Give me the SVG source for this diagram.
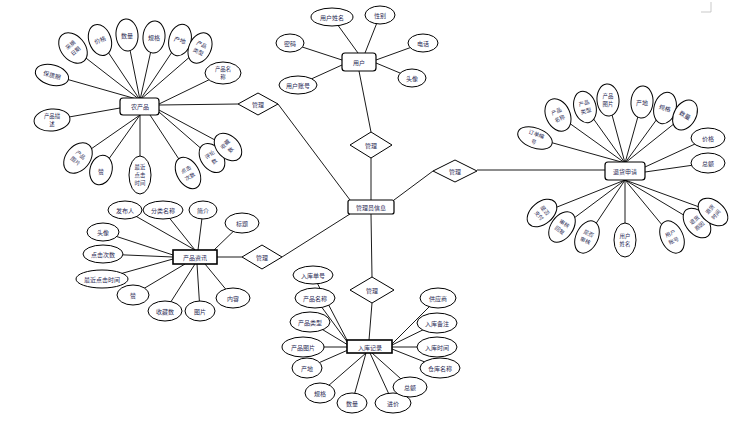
<svg xmlns="http://www.w3.org/2000/svg" width="736" height="434" viewBox="0 0 736 434">
<style>
.c line{stroke:#000;stroke-width:0.9}
ellipse{fill:#fff;stroke:#000;stroke-width:1}
.d{fill:#fff;stroke:#000;stroke-width:1}
.r{fill:#fff;stroke:#000;stroke-width:1.2}
.rs{fill:#fff;stroke:#000;stroke-width:1.6}
text{font-family:"Noto Sans CJK SC","Noto Sans",sans-serif;font-size:6px;fill:#2b2b55;text-anchor:middle;dominant-baseline:central}
text.m{font-size:5.4px}
</style>
<rect width="736" height="434" fill="#fff"/>
<path d="M701,12 H711 V2" fill="none" stroke="#bbb" stroke-width="0.8"/>
<g id="connectors" class="c">
<line x1="52" y1="75" x2="140" y2="100"/>
<line x1="73" y1="48" x2="140" y2="100"/>
<line x1="100" y1="40" x2="140" y2="100"/>
<line x1="127" y1="35" x2="140" y2="100"/>
<line x1="154" y1="37" x2="140" y2="100"/>
<line x1="180" y1="40" x2="140" y2="100"/>
<line x1="200" y1="48" x2="140" y2="100"/>
<line x1="223" y1="73" x2="159" y2="104"/>
<line x1="52" y1="120" x2="120" y2="108"/>
<line x1="78" y1="158" x2="140" y2="115"/>
<line x1="101" y1="170" x2="140" y2="115"/>
<line x1="140" y1="175" x2="140" y2="115"/>
<line x1="188" y1="173" x2="150" y2="115"/>
<line x1="212" y1="158" x2="159" y2="112"/>
<line x1="228" y1="147" x2="159" y2="110"/>
<line x1="159" y1="105" x2="238" y2="104"/>
<line x1="278" y1="104" x2="350" y2="200"/>
<line x1="332" y1="17" x2="358" y2="53"/>
<line x1="380" y1="15" x2="365" y2="53"/>
<line x1="290" y1="43" x2="342" y2="60"/>
<line x1="423" y1="43" x2="376" y2="60"/>
<line x1="412" y1="78" x2="376" y2="63"/>
<line x1="298" y1="85" x2="342" y2="65"/>
<line x1="359" y1="71" x2="371" y2="132"/>
<line x1="371" y1="158" x2="371" y2="200"/>
<line x1="394" y1="200" x2="433" y2="171"/>
<line x1="477" y1="170" x2="605" y2="170"/>
<line x1="535" y1="138" x2="625" y2="163"/>
<line x1="558" y1="115" x2="625" y2="163"/>
<line x1="585" y1="107" x2="625" y2="163"/>
<line x1="608" y1="100" x2="625" y2="163"/>
<line x1="642" y1="102" x2="625" y2="163"/>
<line x1="665" y1="108" x2="625" y2="163"/>
<line x1="685" y1="115" x2="625" y2="163"/>
<line x1="708" y1="138" x2="645" y2="167"/>
<line x1="708" y1="163" x2="645" y2="172"/>
<line x1="542" y1="213" x2="625" y2="180"/>
<line x1="562" y1="227" x2="625" y2="180"/>
<line x1="587" y1="237" x2="625" y2="180"/>
<line x1="625" y1="240" x2="625" y2="180"/>
<line x1="672" y1="237" x2="625" y2="180"/>
<line x1="697" y1="223" x2="625" y2="180"/>
<line x1="713" y1="212" x2="625" y2="180"/>
<line x1="125" y1="210" x2="195" y2="250"/>
<line x1="163" y1="210" x2="195" y2="250"/>
<line x1="203" y1="210" x2="198" y2="250"/>
<line x1="242" y1="223" x2="214" y2="250"/>
<line x1="103" y1="232" x2="173" y2="255"/>
<line x1="103" y1="254" x2="173" y2="257"/>
<line x1="102" y1="279" x2="173" y2="259"/>
<line x1="133" y1="295" x2="185" y2="264"/>
<line x1="165" y1="311" x2="195" y2="264"/>
<line x1="200" y1="311" x2="197" y2="264"/>
<line x1="233" y1="298" x2="205" y2="264"/>
<line x1="217" y1="257" x2="242" y2="257"/>
<line x1="282" y1="257" x2="350" y2="214"/>
<line x1="371" y1="214" x2="372" y2="277"/>
<line x1="372" y1="303" x2="369" y2="340"/>
<line x1="313" y1="275" x2="348" y2="342"/>
<line x1="315" y1="298" x2="348" y2="343"/>
<line x1="310" y1="322" x2="348" y2="345"/>
<line x1="303" y1="347" x2="347" y2="347"/>
<line x1="307" y1="368" x2="348" y2="350"/>
<line x1="320" y1="393" x2="366" y2="353"/>
<line x1="352" y1="403" x2="366" y2="353"/>
<line x1="393" y1="403" x2="370" y2="353"/>
<line x1="410" y1="387" x2="372" y2="353"/>
<line x1="438" y1="298" x2="392" y2="344"/>
<line x1="437" y1="323" x2="392" y2="345"/>
<line x1="437" y1="347" x2="392" y2="347"/>
<line x1="440" y1="368" x2="392" y2="349"/>
</g>

<g id="admin"><rect class="r" x="348" y="200" width="46" height="14" rx="2"/><text x="371" y="207">管理员信息</text></g>
<g id="rel-product"><polygon class="d" points="238,104 258,93 278,104 258,115"/><text x="258" y="104">管理</text></g>
<g id="rel-user"><polygon class="d" points="350,145 371,132 392,145 371,158"/><text x="371" y="145">管理</text></g>
<g id="rel-return"><polygon class="d" points="433,171 455,160 477,171 455,182"/><text x="455" y="171">管理</text></g>
<g id="rel-news"><polygon class="d" points="242,257 262,245 282,257 262,269"/><text x="262" y="257">管理</text></g>
<g id="rel-stock"><polygon class="d" points="350,290 372,277 394,290 372,303"/><text x="372" y="290">管理</text></g>

<g id="product"><rect class="r" x="120" y="98" width="39" height="17" rx="3"/><text x="140" y="106">农产品</text></g>
<g id="p-bzq"><ellipse cx="52" cy="75" rx="17" ry="10" transform="rotate(15 52 75)"/><text x="52" y="75" transform="rotate(15 52 75)">保质期</text></g>
<g id="p-czrq"><ellipse cx="73" cy="48" rx="12" ry="17" transform="rotate(-40 73 48)"/><text class="m" transform="rotate(-40 73 48)"><tspan x="73" y="44">采摘</tspan><tspan x="73" y="52">日期</tspan></text></g>
<g id="p-jg"><ellipse cx="100" cy="40" rx="11" ry="16" transform="rotate(-20 100 40)"/><text x="100" y="40" transform="rotate(-20 100 40)">价格</text></g>
<g id="p-sl"><ellipse cx="127" cy="35" rx="11" ry="16" transform="rotate(-5 127 35)"/><text x="127" y="35">数量</text></g>
<g id="p-gg"><ellipse cx="154" cy="37" rx="11" ry="16" transform="rotate(5 154 37)"/><text x="154" y="37">规格</text></g>
<g id="p-cd"><ellipse cx="180" cy="40" rx="11" ry="16" transform="rotate(15 180 40)"/><text x="180" y="40" transform="rotate(15 180 40)">产地</text></g>
<g id="p-cplx"><ellipse cx="200" cy="48" rx="11" ry="16" transform="rotate(25 200 48)"/><text class="m" transform="rotate(25 200 48)"><tspan x="200" y="44">产品</tspan><tspan x="200" y="52">类型</tspan></text></g>
<g id="p-cpmc"><ellipse cx="223" cy="73" rx="18" ry="11"/><text class="m"><tspan x="223" y="69">产品名</tspan><tspan x="223" y="77">称</tspan></text></g>
<g id="p-cpms"><ellipse cx="52" cy="120" rx="18" ry="11" transform="rotate(-5 52 120)"/><text class="m"><tspan x="52" y="116">产品描</tspan><tspan x="52" y="124">述</tspan></text></g>
<g id="p-cptp"><ellipse cx="78" cy="158" rx="12" ry="17" transform="rotate(40 78 158)"/><text class="m" transform="rotate(40 78 158)"><tspan x="78" y="154">产品</tspan><tspan x="78" y="162">图片</tspan></text></g>
<g id="p-zan"><ellipse cx="101" cy="170" rx="11" ry="15" transform="rotate(15 101 170)"/><text x="101" y="171">赞</text></g>
<g id="p-zjdj"><ellipse cx="140" cy="175" rx="11" ry="19"/><text class="m"><tspan x="140" y="167">最近</tspan><tspan x="140" y="175">点击</tspan><tspan x="140" y="183">时间</tspan></text></g>
<g id="p-djcs"><ellipse cx="188" cy="173" rx="11" ry="17" transform="rotate(-30 188 173)"/><text class="m" transform="rotate(-30 188 173)"><tspan x="188" y="169">点击</tspan><tspan x="188" y="177">次数</tspan></text></g>
<g id="p-pls"><ellipse cx="212" cy="158" rx="11" ry="16" transform="rotate(-35 212 158)"/><text class="m" transform="rotate(-35 212 158)"><tspan x="212" y="154">评论</tspan><tspan x="212" y="162">数</tspan></text></g>
<g id="p-scs"><ellipse cx="228" cy="147" rx="11" ry="16" transform="rotate(-45 228 147)"/><text class="m" transform="rotate(-45 228 147)"><tspan x="228" y="143">收藏</tspan><tspan x="228" y="151">数</tspan></text></g>

<g id="user"><rect class="r" x="342" y="53" width="34" height="18" rx="3"/><text x="359" y="62">用户</text></g>
<g id="u-xm"><ellipse cx="332" cy="17" rx="21" ry="9"/><text x="332" y="17">用户姓名</text></g>
<g id="u-xb"><ellipse cx="380" cy="15" rx="15" ry="9"/><text x="380" y="15">性别</text></g>
<g id="u-mm"><ellipse cx="290" cy="43" rx="14" ry="9"/><text x="290" y="43">密码</text></g>
<g id="u-dh"><ellipse cx="423" cy="43" rx="15" ry="9"/><text x="423" y="43">电话</text></g>
<g id="u-tx"><ellipse cx="412" cy="78" rx="14" ry="9"/><text x="412" y="78">头像</text></g>
<g id="u-zh"><ellipse cx="298" cy="85" rx="19" ry="9"/><text x="298" y="85">用户账号</text></g>

<g id="return"><rect class="r" x="605" y="162" width="40" height="18" rx="3"/><text x="625" y="171">退货申请</text></g>
<g id="t-ddbh"><ellipse cx="535" cy="138" rx="18" ry="10" transform="rotate(20 535 138)"/><text class="m" transform="rotate(20 535 138)"><tspan x="535" y="134">订单编</tspan><tspan x="535" y="142">号</tspan></text></g>
<g id="t-cpmc"><ellipse cx="558" cy="115" rx="12" ry="17" transform="rotate(-25 558 115)"/><text class="m" transform="rotate(-25 558 115)"><tspan x="558" y="111">产品</tspan><tspan x="558" y="119">名称</tspan></text></g>
<g id="t-cplx"><ellipse cx="585" cy="107" rx="11" ry="16" transform="rotate(-15 585 107)"/><text class="m" transform="rotate(-15 585 107)"><tspan x="585" y="103">产品</tspan><tspan x="585" y="111">类型</tspan></text></g>
<g id="t-cptp"><ellipse cx="608" cy="100" rx="11" ry="16" transform="rotate(-5 608 100)"/><text class="m"><tspan x="608" y="96">产品</tspan><tspan x="608" y="104">图片</tspan></text></g>
<g id="t-cd"><ellipse cx="642" cy="102" rx="11" ry="16" transform="rotate(5 642 102)"/><text x="642" y="102">产地</text></g>
<g id="t-gg"><ellipse cx="665" cy="108" rx="11" ry="16" transform="rotate(15 665 108)"/><text x="665" y="108" transform="rotate(15 665 108)">规格</text></g>
<g id="t-sl"><ellipse cx="685" cy="115" rx="11" ry="16" transform="rotate(30 685 115)"/><text x="685" y="115" transform="rotate(30 685 115)">数量</text></g>
<g id="t-jg"><ellipse cx="708" cy="138" rx="17" ry="10"/><text x="708" y="138">价格</text></g>
<g id="t-ze"><ellipse cx="708" cy="163" rx="17" ry="10"/><text x="708" y="163">总额</text></g>
<g id="t-sfzf"><ellipse cx="542" cy="213" rx="11" ry="17" transform="rotate(50 542 213)"/><text class="m" transform="rotate(50 542 213)"><tspan x="542" y="209">是否</tspan><tspan x="542" y="217">支付</tspan></text></g>
<g id="t-shhf"><ellipse cx="562" cy="227" rx="11" ry="17" transform="rotate(35 562 227)"/><text class="m" transform="rotate(35 562 227)"><tspan x="562" y="223">审核</tspan><tspan x="562" y="231">回复</tspan></text></g>
<g id="t-sfsh"><ellipse cx="587" cy="237" rx="11" ry="17" transform="rotate(25 587 237)"/><text class="m" transform="rotate(25 587 237)"><tspan x="587" y="233">是否</tspan><tspan x="587" y="241">审核</tspan></text></g>
<g id="t-yhxm"><ellipse cx="625" cy="240" rx="11" ry="17"/><text class="m"><tspan x="625" y="236">用户</tspan><tspan x="625" y="244">姓名</tspan></text></g>
<g id="t-yhzh"><ellipse cx="672" cy="237" rx="11" ry="17" transform="rotate(-25 672 237)"/><text class="m" transform="rotate(-25 672 237)"><tspan x="672" y="233">用户</tspan><tspan x="672" y="241">账号</tspan></text></g>
<g id="t-thyy"><ellipse cx="697" cy="223" rx="11" ry="17" transform="rotate(-40 697 223)"/><text class="m" transform="rotate(-40 697 223)"><tspan x="697" y="219">退货</tspan><tspan x="697" y="227">原因</tspan></text></g>
<g id="t-thsj"><ellipse cx="713" cy="212" rx="11" ry="17" transform="rotate(-50 713 212)"/><text class="m" transform="rotate(-50 713 212)"><tspan x="713" y="208">退货</tspan><tspan x="713" y="216">时间</tspan></text></g>

<g id="news"><rect class="rs" x="173" y="250" width="44" height="14"/><text x="195" y="257">产品资讯</text></g>
<g id="n-fbr"><ellipse cx="125" cy="210" rx="17" ry="9"/><text x="125" y="210">发布人</text></g>
<g id="n-flmc"><ellipse cx="163" cy="210" rx="20" ry="9"/><text x="163" y="210">分类名称</text></g>
<g id="n-jj"><ellipse cx="203" cy="210" rx="14" ry="9"/><text x="203" y="210">简介</text></g>
<g id="n-bt"><ellipse cx="242" cy="223" rx="17" ry="10"/><text x="242" y="223">标题</text></g>
<g id="n-tx"><ellipse cx="103" cy="232" rx="16" ry="9"/><text x="103" y="232">头像</text></g>
<g id="n-djcs"><ellipse cx="103" cy="254" rx="20" ry="9"/><text x="103" y="254">点击次数</text></g>
<g id="n-zjdj"><ellipse cx="102" cy="279" rx="26" ry="9"/><text x="102" y="279">最近点击时间</text></g>
<g id="n-zan"><ellipse cx="133" cy="295" rx="16" ry="10"/><text x="133" y="295">赞</text></g>
<g id="n-scs"><ellipse cx="165" cy="311" rx="17" ry="10"/><text x="165" y="311">收藏数</text></g>
<g id="n-tp"><ellipse cx="200" cy="311" rx="15" ry="10"/><text x="200" y="311">图片</text></g>
<g id="n-nr"><ellipse cx="233" cy="298" rx="17" ry="10"/><text x="233" y="298">内容</text></g>

<g id="stock"><rect class="rs" x="347" y="340" width="45" height="13"/><text x="370" y="347">入库记录</text></g>
<g id="s-rkdh"><ellipse cx="313" cy="275" rx="20" ry="9"/><text x="313" y="275">入库单号</text></g>
<g id="s-cpmc"><ellipse cx="315" cy="298" rx="20" ry="10"/><text x="315" y="298">产品名称</text></g>
<g id="s-cplx"><ellipse cx="310" cy="322" rx="20" ry="10"/><text x="310" y="322">产品类型</text></g>
<g id="s-cptp"><ellipse cx="303" cy="347" rx="21" ry="10"/><text x="303" y="347">产品图片</text></g>
<g id="s-cd"><ellipse cx="307" cy="368" rx="15" ry="10"/><text x="307" y="368">产地</text></g>
<g id="s-gg"><ellipse cx="320" cy="393" rx="15" ry="10"/><text x="320" y="393">规格</text></g>
<g id="s-sl"><ellipse cx="352" cy="403" rx="15" ry="10"/><text x="352" y="403">数量</text></g>
<g id="s-jj"><ellipse cx="393" cy="403" rx="18" ry="10"/><text x="393" y="403">进价</text></g>
<g id="s-ze"><ellipse cx="410" cy="387" rx="17" ry="10"/><text x="410" y="387">总额</text></g>
<g id="s-ckmc"><ellipse cx="440" cy="368" rx="20" ry="10"/><text x="440" y="368">仓库名称</text></g>
<g id="s-rksj"><ellipse cx="437" cy="347" rx="20" ry="10"/><text x="437" y="347">入库时间</text></g>
<g id="s-rkbz"><ellipse cx="437" cy="323" rx="20" ry="10"/><text x="437" y="323">入库备注</text></g>
<g id="s-gys"><ellipse cx="438" cy="298" rx="18" ry="10"/><text x="438" y="298">供应商</text></g>
</svg>
